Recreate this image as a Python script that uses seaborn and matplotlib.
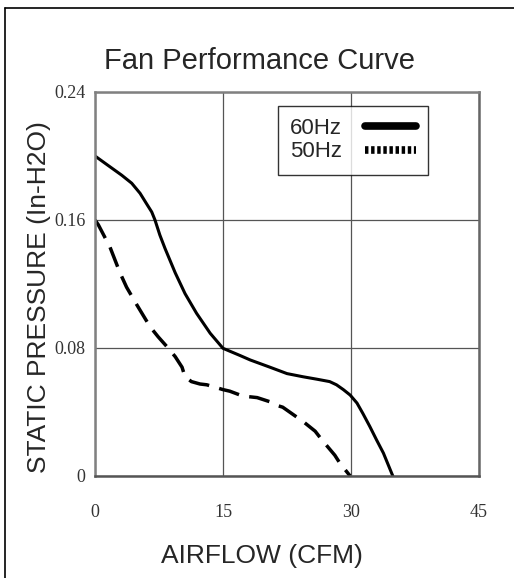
import numpy as np
import pandas as pd
import matplotlib
matplotlib.use("Agg")
import matplotlib.pyplot as plt
from matplotlib.lines import Line2D
import seaborn as sns

# ---- data ----
airflow_60 = [0, 1.56, 3.13, 4.3, 5.28, 6.06, 6.65, 7.03, 7.6, 8.2, 9.4, 10.55, 11.9,
              13.5, 15.0, 17.0, 18.2, 20.5, 22.5, 24.4, 26.0, 27.5, 28.3, 29.1, 29.9,
              30.7, 31.4, 32.2, 33.0, 33.8, 34.9]
pressure_60 = [0.200, 0.194, 0.188, 0.183, 0.1767, 0.170, 0.165, 0.160, 0.1506, 0.1423,
               0.127, 0.114, 0.1017, 0.0892, 0.0798, 0.0753, 0.0725, 0.068, 0.064,
               0.062, 0.0605, 0.059, 0.057, 0.054, 0.0506, 0.0456, 0.039, 0.031,
               0.0225, 0.0143, 0.0]

airflow_50 = [0, 0.39, 1.76, 2.93, 3.7, 4.9, 5.5, 6.45, 7.4, 8.4, 9.4, 10.2, 10.55,
              11.3, 12.3, 13.1, 15.0, 15.8, 17.0, 17.8, 19.0, 20.5, 21.4, 22.0, 23.6,
              24.4, 25.8, 26.6, 28.1, 28.7, 29.9]
pressure_50 = [0.160, 0.157, 0.143, 0.127, 0.118, 0.107, 0.1017, 0.0933, 0.087, 0.081,
               0.0746, 0.068, 0.062, 0.059, 0.0575, 0.057, 0.054, 0.053, 0.0506, 0.0497,
               0.049, 0.0464, 0.044, 0.043, 0.037, 0.034, 0.028, 0.0225, 0.013, 0.008,
               0.0]

x_ticks = [0, 15, 30, 45]
x_tick_labels = ["0", "15", "30", "45"]
y_ticks = [0, 0.08, 0.16, 0.24]
y_tick_labels = ["0", "0.08", "0.16", "0.24"]
series_labels = ["60Hz", "50Hz"]

df60 = pd.DataFrame({"airflow": airflow_60, "pressure": pressure_60})
df50 = pd.DataFrame({"airflow": airflow_50, "pressure": pressure_50})

sns.set_style("white")
plt.rcParams["font.family"] = ["Liberation Sans", "DejaVu Sans"]

W, H = 514, 578
fig = plt.figure(figsize=(W / 100, H / 100), dpi=100)
ax = fig.add_axes([95 / W, (H - 476) / H, 384 / W, 384 / H])

sns.lineplot(data=df60, x="airflow", y="pressure", ax=ax, color="black",
             linewidth=2.2, sort=False, estimator=None,
             solid_joinstyle="round", solid_capstyle="round")
sns.lineplot(data=df50, x="airflow", y="pressure", ax=ax, color="black",
             linewidth=2.5, linestyle=(0, (6, 3)), sort=False, estimator=None,
             dash_joinstyle="round", dash_capstyle="butt")

ax.set_xlim(0, 45)
ax.set_ylim(0, 0.24)
ax.set_xticks(x_ticks)
ax.set_xticklabels(x_tick_labels)
ax.set_yticks(y_ticks)
ax.set_yticklabels(y_tick_labels)
ax.grid(True, color="#555555", linewidth=0.9)
ax.set_axisbelow(True)
for s in ax.spines.values():
    s.set_visible(True)
    s.set_color("#808080")
    s.set_linewidth(1.8)
ax.spines["bottom"].set_color("#555555")
ax.spines["right"].set_color("#666666")
ax.tick_params(axis="both", length=0, labelsize=13)
ax.tick_params(axis="x", pad=20)
ax.tick_params(axis="y", pad=7)
for lab in ax.get_xticklabels() + ax.get_yticklabels():
    lab.set_family(["Liberation Serif", "DejaVu Serif"])
    lab.set_color("#333333")

ax.set_xlabel("AIRFLOW (CFM)", fontsize=19, labelpad=17)
ax.xaxis.label.set_x((262 - 95) / 384)
ax.set_ylabel("STATIC PRESSURE (In-H2O)", fontsize=19, labelpad=2)
ax.yaxis.label.set_y((476 - 297) / 384)
fig.text(260 / W, 1 - 61 / H, "Fan Performance Curve", fontsize=21,
         ha="center", va="center")

handles = [Line2D([], [], color="black", linewidth=5.5),
           Line2D([], [], color="black", linewidth=5.5, linestyle=(0, (0.45, 0.35)))]
leg = ax.legend(handles, series_labels, loc="upper right",
                bbox_to_anchor=(0.867, 0.9635), borderaxespad=0.0,
                fontsize=16, frameon=True,
                fancybox=False, handlelength=2.3, handletextpad=1.0,
                borderpad=0.55, labelspacing=0.1, markerfirst=False)
leg.get_frame().set_edgecolor("black")
leg.get_frame().set_linewidth(1.0)

# figure border (left and top edges)
fig.add_artist(Line2D([5 / W, 5 / W], [0, 1 - 8 / H], transform=fig.transFigure,
                      color="black", linewidth=1.2))
fig.add_artist(Line2D([5 / W, 1], [1 - 8 / H, 1 - 8 / H], transform=fig.transFigure,
                      color="black", linewidth=1.2))

fig.savefig("out.png", dpi=100)
